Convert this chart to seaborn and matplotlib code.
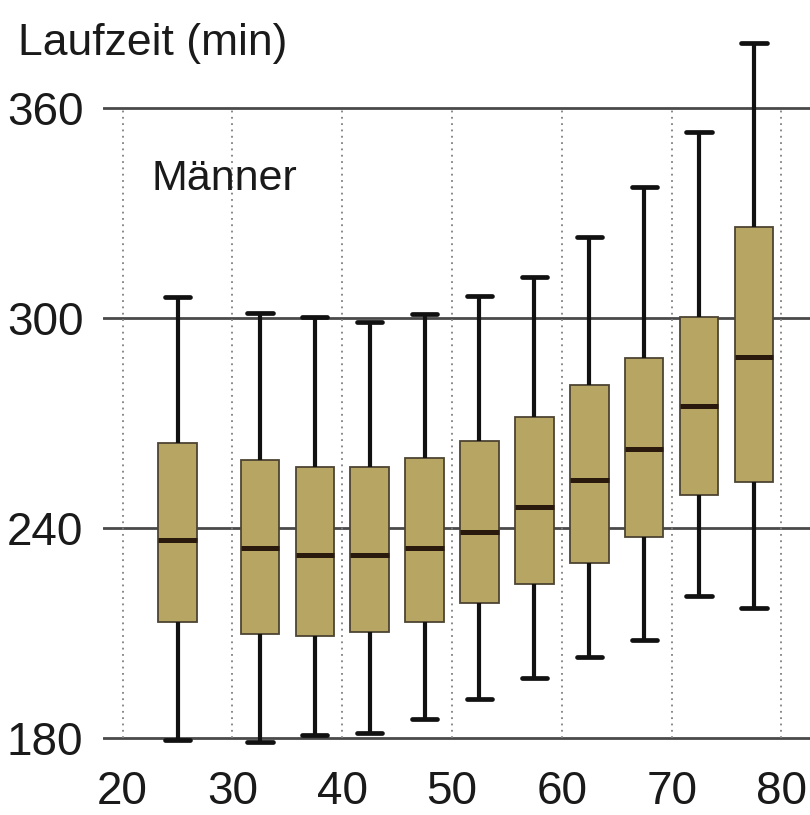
import numpy as np
import pandas as pd
import matplotlib.pyplot as plt
import seaborn as sns

# Laufzeit (min) nach Altersklasse, Männer - Fünf-Punkte-Zusammenfassung je Klasse
alter = [25, 32.5, 37.5, 42.5, 47.5, 52.5, 57.5, 62.5, 67.5, 72.5, 77.5]
minimum = [179.4, 178.9, 180.9, 181.6, 185.6, 191.1, 197.2, 203.1, 208.0, 220.7, 217.1]
q1 = [213.2, 209.9, 209.1, 210.4, 213.2, 218.5, 224.0, 229.9, 237.5, 249.4, 253.2]
median = [236.6, 234.4, 232.3, 232.3, 234.4, 238.8, 246.1, 253.7, 262.6, 274.9, 288.9]
q3 = [264.2, 259.4, 257.5, 257.5, 259.9, 264.9, 271.8, 280.9, 288.7, 300.2, 326.1]
maximum = [306.1, 301.3, 300.4, 298.9, 301.0, 306.3, 311.8, 323.1, 337.5, 353.0, 378.5]

xticks = [20, 30, 40, 50, 60, 70, 80]
yticks = [180, 240, 300, 360]

# je Gruppe die fünf Kennwerte als "Daten" -> Quartile fallen genau darauf
werte = np.column_stack([minimum, q1, median, q3, maximum]).ravel()
df = pd.DataFrame({'alter': np.repeat(alter, 5), 'laufzeit': werte})

sns.set_style('white')
plt.rcParams['font.family'] = ['Liberation Sans', 'DejaVu Sans']

fig = plt.figure(figsize=(8.1, 8.15), dpi=100)
ax = fig.add_axes([0.127, 0.077, 0.873, 0.884])

# Gitter
for y in yticks:
    ax.axhline(y, color='#4a4a4a', lw=2, zorder=0)
ax.vlines(xticks, 180, 360, colors='#808080', linestyles=(0, (1, 2.5)), lw=1.3, zorder=0)

sns.boxplot(data=df, x='alter', y='laufzeit', native_scale=True, whis=(0, 100),
            width=0.7, color='#b7a563', saturation=1, fill=True, ax=ax,
            capwidths=2.3,
            boxprops=dict(edgecolor='#4d4433', linewidth=1.3),
            whiskerprops=dict(color='#111111', linewidth=3),
            capprops=dict(color='#111111', linewidth=3.4),
            medianprops=dict(color='#2a1a0e', linewidth=3.6))

ax.set_xlim(18.2, 82.6)
ax.set_ylim(176, 381.7)
ax.set_xticks(xticks)
ax.set_yticks(yticks)
ax.set_xticklabels([str(v) for v in xticks])
ax.set_yticklabels([str(v) for v in yticks])
ax.tick_params(axis='both', length=0, labelsize=33, colors='#1a1a1a')
ax.tick_params(axis='x', pad=13)
ax.tick_params(axis='y', pad=14)
ax.set_xlabel('')
ax.set_ylabel('')
sns.despine(ax=ax, left=True, bottom=True)

fig.text(18 / 810, 1 - 44 / 815, 'Laufzeit (min)', fontsize=32, va='center', ha='left', color='#1a1a1a')
ax.text(22.6, 336.6, 'Männer', fontsize=31, va='baseline', ha='left', color='#1a1a1a')

plt.savefig('out.png', dpi=100, facecolor='white')
plt.close()
